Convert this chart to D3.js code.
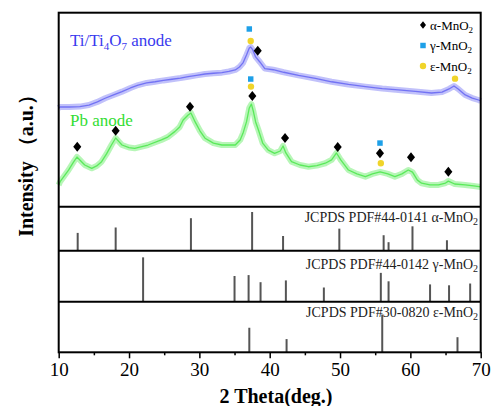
<!DOCTYPE html>
<html>
<head>
<meta charset="utf-8">
<script src="https://cdn.jsdelivr.net/npm/d3@7"></script>
<style>
body { margin: 0; background: #fff; }
text { font-family: "Liberation Serif", "Times New Roman", serif; }
</style>
</head>
<body>
<div id="main"></div>
<script>

// measured spectra (2theta in deg, intensity in arbitrary units 0-100)
var tiTheta = [10.0, 10.2, 11.5, 13.0, 14.3, 15.5, 16.6, 17.8, 19.0, 20.2, 21.3, 22.5, 23.7, 24.9, 26.1, 27.3, 28.4, 29.6, 30.8, 32.0, 33.2, 34.2, 35.1, 35.7, 36.2, 36.7, 37.1, 37.3, 37.6, 38.0, 38.6, 39.3, 40.5, 42.0, 44.1, 46.5, 48.8, 51.2, 53.6, 56.0, 58.3, 60.7, 63.0, 64.5, 65.5, 66.2, 66.8, 67.8, 68.8, 69.7, 70.0];
var tiIntensity = [50.9, 51.4, 51.4, 51.6, 52.4, 54.0, 55.9, 57.6, 59.3, 61.2, 62.7, 63.8, 64.4, 65.1, 65.7, 66.3, 67.0, 67.7, 68.4, 68.8, 69.1, 69.7, 70.5, 72.0, 74.1, 78.2, 81.8, 82.3, 80.8, 77.2, 74.6, 71.2, 70.6, 69.3, 67.7, 66.1, 64.4, 63.0, 61.9, 60.9, 60.2, 59.4, 58.6, 59.1, 60.7, 62.2, 60.7, 57.6, 56.0, 55.0, 54.5];

var pbTheta = [10.0, 10.2, 11.4, 12.1, 12.6, 13.0, 13.7, 14.7, 15.4, 16.1, 16.8, 17.5, 18.1, 18.6, 19.0, 20.0, 20.8, 22.7, 24.6, 25.5, 26.5, 27.2, 27.7, 28.4, 28.8, 29.4, 30.1, 30.8, 32.0, 33.2, 35.1, 35.8, 36.2, 36.7, 37.1, 37.4, 37.7, 38.0, 38.4, 39.0, 39.8, 40.7, 41.5, 41.9, 42.3, 43.1, 44.3, 45.5, 46.7, 47.9, 48.8, 49.5, 50.1, 51.2, 52.4, 53.6, 54.6, 55.7, 56.8, 57.8, 58.8, 59.7, 60.3, 61.0, 61.6, 62.8, 64.0, 65.0, 65.4, 66.3, 67.8, 69.0, 70.0];
var pbIntensity = [11.2, 12.9, 18.9, 23.0, 25.6, 24.1, 21.5, 19.8, 21.0, 23.2, 27.2, 31.8, 35.4, 33.4, 31.8, 30.5, 30.1, 31.8, 34.4, 35.9, 38.7, 41.1, 44.7, 47.3, 48.3, 43.7, 39.0, 35.3, 32.8, 31.8, 31.8, 34.4, 37.8, 43.7, 50.9, 52.9, 48.8, 43.7, 39.5, 32.8, 29.2, 27.5, 28.7, 31.3, 27.7, 23.2, 21.5, 20.6, 21.2, 22.4, 24.1, 27.7, 24.1, 18.9, 16.9, 15.5, 16.9, 18.0, 16.9, 15.5, 16.9, 18.9, 17.8, 13.7, 12.1, 11.2, 11.2, 12.2, 13.2, 11.7, 11.2, 10.7, 10.2];

// phase markers above the peaks
var alphaMarkTheta = [12.64, 18.1, 28.67, 37.53, 38.3, 42.18, 49.67, 55.68, 60.09, 65.4];
var alphaMarkY = [30.9, 39.2, 51.5, 57.1, 80.4, 35.4, 30.8, 27.5, 25.5, 18.0];
var gammaMarkTheta = [37.1, 37.3, 55.68];
var gammaMarkY = [91.6, 65.8, 32.8];
var epsMarkTheta = [37.3, 37.34, 55.8, 66.35];
var epsMarkY = [85.4, 61.9, 22.4, 66.0];

// JCPDS reference cards (relative intensity)
var alphaRefTheta = [12.7, 18.1, 28.8, 37.5, 41.9, 49.9, 56.2, 56.9, 60.3, 65.2];
var alphaRefI = [46, 60, 84, 100, 38, 57, 40, 22, 63, 27];
var gammaRefTheta = [22.0, 35.0, 37.0, 38.7, 42.3, 47.7, 55.8, 56.9, 62.8, 65.5, 68.5];
var gammaRefI = [100, 58, 60, 44, 48, 32, 65, 46, 39, 37, 41];
var epsRefTheta = [37.1, 42.4, 56.0, 66.7];
var epsRefI = [65, 35, 100, 40];

var xTicks = [10, 20, 30, 40, 50, 60, 70];
var xMinorTicks = [15, 25, 35, 45, 55, 65];

var legendNames = ["α-MnO", "γ-MnO", "ε-MnO"];

var width = 492, height = 406;
var left = 58.7, right = 480.7;
var top0 = 12.7, mainBottom = 206.7, aBottom = 250.7, gBottom = 301.7, axisY = 352.3;

var blue = "#6464f2", green = "#4ae84a", sq = "#1ea0e8", circ = "#f0d42a";

var svg = d3.select("#main")
    .append("svg")
    .attr("width", width)
    .attr("height", height);

var x = d3.scaleLinear().domain([10, 70]).range([left, right]);
var yMain = d3.scaleLinear().domain([0, 100]).range([mainBottom, top0]);
var yA = d3.scaleLinear().domain([0, 113.7]).range([aBottom, mainBottom]);
var yG = d3.scaleLinear().domain([0, 115]).range([gBottom, aBottom]);
var yE = d3.scaleLinear().domain([0, 134]).range([axisY, gBottom]);

// spectra: wide pale band for the noise, thin line on top
function drawSpectrum(thetas, vals, color) {
    var pts = thetas.map(function (t, i) { return [t, vals[i]]; });
    var line = d3.line()
        .x(function (d) { return x(d[0]); })
        .y(function (d) { return yMain(d[1]); });
    svg.append("path").datum(pts)
        .attr("d", line)
        .attr("fill", "none")
        .attr("stroke", color)
        .attr("stroke-opacity", 0.4)
        .attr("stroke-width", 6)
        .attr("stroke-linejoin", "round");
    svg.append("path").datum(pts)
        .attr("d", line)
        .attr("fill", "none")
        .attr("stroke", color)
        .attr("stroke-opacity", 0.85)
        .attr("stroke-width", 1.3)
        .attr("stroke-linejoin", "round");
}
drawSpectrum(tiTheta, tiIntensity, blue);
drawSpectrum(pbTheta, pbIntensity, green);

// marker shapes
var diamond = {
    draw: function (ctx, size) {
        var w = Math.sqrt(size) * 0.45, h = Math.sqrt(size) * 0.56;
        ctx.moveTo(0, -h); ctx.lineTo(w, 0); ctx.lineTo(0, h); ctx.lineTo(-w, 0); ctx.closePath();
    }
};

function drawMarks(thetas, ys, type, size, color) {
    svg.append("g").selectAll("path")
        .data(thetas.map(function (t, i) { return [t, ys[i]]; }))
        .enter().append("path")
        .attr("d", d3.symbol().type(type).size(size))
        .attr("transform", function (d) { return "translate(" + x(d[0]) + "," + yMain(d[1]) + ")"; })
        .attr("fill", color);
}
drawMarks(alphaMarkTheta, alphaMarkY, diamond, 80, "#000");
drawMarks(gammaMarkTheta, gammaMarkY, d3.symbolSquare, 30, sq);
drawMarks(epsMarkTheta, epsMarkY, d3.symbolCircle, 32, circ);

// sample labels
var tiLabel = svg.append("text").attr("x", 70).attr("y", 46)
    .attr("fill", "#3a3aee").style("font-size", "17px");
tiLabel.append("tspan").text("Ti/Ti");
tiLabel.append("tspan").text("4").attr("dy", 4).style("font-size", "11px");
tiLabel.append("tspan").text("O").attr("dy", -4);
tiLabel.append("tspan").text("7").attr("dy", 4).style("font-size", "11px");
tiLabel.append("tspan").text(" anode").attr("dy", -4);

svg.append("text").attr("x", 70).attr("y", 126)
    .attr("fill", "#33dd33").style("font-size", "17px")
    .text("Pb anode");

// legend
var legendTypes = [diamond, d3.symbolSquare, d3.symbolCircle];
var legendSizes = [45, 30, 32];
var legendColors = ["#000", sq, circ];
var legend = svg.append("g").selectAll("g")
    .data(legendNames)
    .enter().append("g")
    .attr("transform", function (d, i) { return "translate(423," + (25 + i * 20.5) + ")"; });
legend.append("path")
    .attr("d", function (d, i) { return d3.symbol().type(legendTypes[i]).size(legendSizes[i])(); })
    .attr("fill", function (d, i) { return legendColors[i]; });
legend.append("text")
    .attr("x", 7).attr("y", 4.5)
    .style("font-size", "13px")
    .text(function (d) { return d; })
    .append("tspan").text("2").attr("dy", 3).style("font-size", "9px");

// reference sticks
function drawSticks(thetas, vals, yScale, base) {
    svg.append("g").selectAll("line")
        .data(thetas.map(function (t, i) { return [t, vals[i]]; }))
        .enter().append("line")
        .attr("x1", function (d) { return x(d[0]); })
        .attr("x2", function (d) { return x(d[0]); })
        .attr("y1", yScale(0))
        .attr("y2", function (d) { return yScale(d[1]); })
        .attr("stroke", "#555")
        .attr("stroke-width", 2);
}
drawSticks(alphaRefTheta, alphaRefI, yA);
drawSticks(gammaRefTheta, gammaRefI, yG);
drawSticks(epsRefTheta, epsRefI, yE);

var refLabels = [
    { t: "JCPDS PDF#44-0141 α-MnO", y: 221.7 },
    { t: "JCPDS PDF#44-0142 γ-MnO", y: 269 },
    { t: "JCPDS PDF#30-0820 ε-MnO", y: 316.7 }
];
refLabels.forEach(function (r) {
    var t = svg.append("text")
        .attr("x", 478).attr("y", r.y)
        .attr("text-anchor", "end")
        .attr("fill", "#222")
        .style("font-size", "14px");
    t.append("tspan").text(r.t);
    t.append("tspan").text("2").attr("dy", 3).style("font-size", "10px");
});

// frame and panel dividers
svg.append("rect")
    .attr("x", left).attr("y", top0)
    .attr("width", right - left).attr("height", axisY - top0)
    .attr("fill", "none").attr("stroke", "#000").attr("stroke-width", 2);
[mainBottom, aBottom, gBottom].forEach(function (yy) {
    svg.append("line")
        .attr("x1", left).attr("x2", right)
        .attr("y1", yy).attr("y2", yy)
        .attr("stroke", "#000").attr("stroke-width", 2);
});

// x axis
var xAxis = svg.append("g")
    .attr("transform", "translate(0," + axisY + ")")
    .call(d3.axisBottom(x).tickValues(xTicks).tickSize(6).tickPadding(4).tickFormat(d3.format("d")));
xAxis.select(".domain").remove();
xAxis.selectAll(".tick line").attr("stroke-width", 1.5);
xAxis.selectAll("text")
    .style("font-family", "'Liberation Serif', 'Times New Roman', serif")
    .style("font-size", "19px")
    .attr("fill", "#000");

var xMinor = svg.append("g")
    .attr("transform", "translate(0," + axisY + ")")
    .call(d3.axisBottom(x).tickValues(xMinorTicks).tickSize(3).tickFormat(""));
xMinor.select(".domain").remove();
xMinor.selectAll(".tick line").attr("stroke-width", 1.5);

// axis titles
svg.append("text")
    .attr("x", 276).attr("y", 403)
    .attr("text-anchor", "middle")
    .style("font-size", "20px").style("font-weight", "bold")
    .text("2 Theta(deg.)");

svg.append("text")
    .attr("transform", "translate(33,161) rotate(-90)")
    .attr("text-anchor", "middle")
    .style("font-size", "20px").style("font-weight", "bold")
    .text("Intensity （a.u.）");

</script>
</body>
</html>
